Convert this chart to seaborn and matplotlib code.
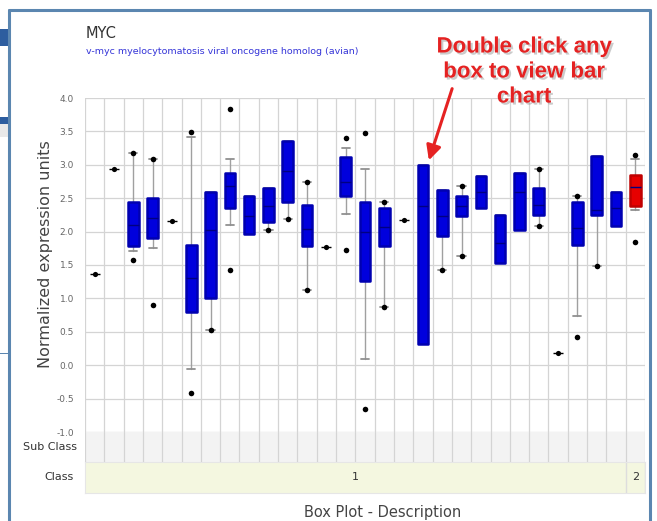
import numpy as np
import pandas as pd
import matplotlib
matplotlib.use('Agg')
import matplotlib.pyplot as plt
import matplotlib.patheffects as pe
from matplotlib.patches import Rectangle
import seaborn as sns

sns.set_style('white')
plt.rcParams['font.family'] = ['DejaVu Sans']

# ===== data =====
box_pos = [3, 4, 6, 7, 8, 9, 10, 11, 12, 14, 15, 16, 18, 19, 20, 21, 22, 23, 24, 26, 27, 28, 29]
box_q1 = [1.79, 1.91, 0.80, 1.00, 2.36, 1.96, 2.14, 2.45, 1.79, 2.53, 1.26, 1.79,
          0.31, 1.94, 2.24, 2.35, 1.53, 2.03, 2.25, 1.80, 2.25, 2.08, 2.39]
box_med = [2.10, 2.20, 1.30, 2.03, 2.69, 2.23, 2.38, 2.90, 2.04, 2.74, 2.00, 2.07,
           2.39, 2.23, 2.38, 2.60, 1.83, 2.60, 2.40, 2.06, 2.33, 2.35, 2.67]
box_q3 = [2.45, 2.51, 1.80, 2.60, 2.87, 2.54, 2.65, 3.35, 2.40, 3.12, 2.45, 2.36,
          2.99, 2.63, 2.53, 2.83, 2.25, 2.88, 2.65, 2.45, 3.13, 2.60, 2.85]
box_lo = [1.71, 1.75, -0.06, 0.52, 2.10, 1.96, 2.02, 2.19, 1.13, 2.26, 0.10, 0.87,
          0.31, 1.42, 1.64, 2.35, 1.53, 2.03, 2.08, 0.73, 1.49, 2.08, 2.32]
box_hi = [3.17, 3.09, 3.42, 2.60, 3.08, 2.54, 2.65, 3.35, 2.74, 3.25, 2.94, 2.44,
          2.99, 2.63, 2.68, 2.83, 2.25, 2.88, 2.94, 2.53, 3.13, 2.60, 3.09]
box_class = [1] * 22 + [2]

single_pos = [1, 2, 5, 13, 17, 25]
single_val = [1.37, 2.93, 2.16, 1.77, 2.17, 0.19]

dot_pos = [3, 3, 4, 4, 6, 6, 7, 8, 8, 10, 11, 12, 12, 14, 14, 15, 15, 16, 16,
           19, 20, 20, 24, 24, 26, 26, 27, 29, 29]
dot_val = [3.17, 1.57, 3.09, 0.90, 3.49, -0.41, 0.52, 3.84, 1.42, 2.02, 2.19,
           2.74, 1.13, 3.40, 1.73, 3.48, -0.66, 2.44, 0.87, 1.42, 2.68, 1.64,
           2.94, 2.08, 2.53, 0.42, 1.49, 3.14, 1.84]

n_cols = 29
class_names = ['1', '2']
class_span = [(0.5, 28.5), (28.5, 29.5)]

W, H = 657, 521


def fx(px):
    return px / W


def fy(py):
    return 1 - py / H


fig = plt.figure(figsize=(W / 100, H / 100), dpi=100)

# ===== web page background bits =====
for y0, y1, c in [(29, 46, '#2d5d9f'), (117, 124, '#2d5d9f'), (124, 137, '#e9e9e9')]:
    fig.add_artist(Rectangle((0, fy(y1)), fx(9), fy(y0) - fy(y1),
                             transform=fig.transFigure, color=c, lw=0))
fig.add_artist(Rectangle((0, fy(354)), fx(9), 1.5 / H, transform=fig.transFigure,
                         color='#5b86b0', lw=0))
# panel border
fig.add_artist(plt.Line2D([fx(9), fx(9)], [0, fy(10)], transform=fig.transFigure,
                          color='#5b86b0', lw=2.2))
fig.add_artist(plt.Line2D([fx(650), fx(650)], [0, fy(10)], transform=fig.transFigure,
                          color='#5b86b0', lw=2.2))
fig.add_artist(plt.Line2D([fx(9), fx(650)], [fy(10), fy(10)], transform=fig.transFigure,
                          color='#5b86b0', lw=2.2))

# ===== main box plot =====
left, right = 85, 645
ax = fig.add_axes([fx(left), fy(432), fx(right) - fx(left), fy(98) - fy(432)])
ax.set_xlim(0.5, n_cols + 0.5)
ax.set_ylim(-1.0, 4.0)

for x in np.arange(0.5, n_cols + 1, 1):
    ax.axvline(x, color='#d4d4d4', lw=0.9, zorder=0)
for y in np.arange(-1.0, 4.01, 0.5):
    ax.axhline(y, color='#d4d4d4', lw=0.9, zorder=0)

stats = []
for p, q1, md, q3, lo, hi in zip(box_pos, box_q1, box_med, box_q3, box_lo, box_hi):
    stats.append({'med': md, 'q1': q1, 'q3': q3, 'whislo': lo, 'whishi': hi, 'fliers': []})

bp = ax.bxp(stats, positions=box_pos, widths=0.55, capwidths=0.42,
            patch_artist=True, showfliers=False, manage_ticks=False,
            boxprops=dict(facecolor='#0000dd', edgecolor='#0000b0', linewidth=1.8,
                          joinstyle='round'),
            medianprops=dict(color='#000080', linewidth=1.0),
            whiskerprops=dict(color='#a0a0a0', linewidth=1.0, zorder=1.5),
            capprops=dict(color='#909090', linewidth=1.3, zorder=1.5))
for patch, cl in zip(bp['boxes'], box_class):
    if cl == 2:
        patch.set_facecolor('#e60000')
        patch.set_edgecolor('#c00000')

dots = pd.DataFrame({'pos': dot_pos, 'val': dot_val})
sns.scatterplot(data=dots, x='pos', y='val', color='black', s=16,
                edgecolor='black', linewidth=0, ax=ax, zorder=3)
singles = pd.DataFrame({'pos': single_pos, 'val': single_val})
sns.scatterplot(data=singles, x='pos', y='val', marker='_', color='black', s=60,
                linewidth=1.0, ax=ax, zorder=3)
sns.scatterplot(data=singles, x='pos', y='val', color='black', s=14,
                edgecolor='black', linewidth=0, ax=ax, zorder=3)

ax.set_xlabel('')
ax.set_ylabel('Normalized expression units', fontsize=11.5, color='#444444')
ax.yaxis.set_label_coords(-0.057, 0.5 + (265 - 254) / 334)
ax.set_xticks([])
ax.set_yticks(np.arange(-1.0, 4.01, 0.5))
ax.set_yticklabels([f'{v:.1f}' for v in np.arange(-1.0, 4.01, 0.5)],
                   fontsize=6.5, color='#666666')
ax.tick_params(axis='y', length=0, pad=8)
for s in ax.spines.values():
    s.set_visible(False)

# ===== sub class / class bands =====
ax_sub = fig.add_axes([fx(left), fy(462), fx(right) - fx(left), fy(432) - fy(462)])
ax_sub.set_xlim(0.5, n_cols + 0.5)
ax_sub.set_ylim(0, 1)
ax_sub.set_facecolor('#f3f3f3')
for x in np.arange(0.5, n_cols + 1, 1):
    ax_sub.axvline(x, color='#d4d4d4', lw=0.9)
ax_sub.set_xticks([])
ax_sub.set_yticks([])
for s in ax_sub.spines.values():
    s.set_visible(False)

ax_cls = fig.add_axes([fx(left), fy(493), fx(right) - fx(left), fy(462) - fy(493)])
ax_cls.set_xlim(0.5, n_cols + 0.5)
ax_cls.set_ylim(0, 1)
ax_cls.set_facecolor('#f4f7e0')
for name, (a, b) in zip(class_names, class_span):
    ax_cls.text((a + b) / 2, 0.5, name, ha='center', va='center', fontsize=8, color='#333333')
    ax_cls.axvline(b, color='#dddddd', lw=1.0)
ax_cls.set_xticks([])
ax_cls.set_yticks([])
for s in ax_cls.spines.values():
    s.set_color('#e6e6e6')

fig.text(fx(50), fy(447), 'Sub Class', ha='center', va='center', fontsize=8, color='#333333')
fig.text(fx(59), fy(477), 'Class', ha='center', va='center', fontsize=8, color='#333333')
fig.text(fx(383), fy(512), 'Box Plot - Description', ha='center', va='center',
         fontsize=10.5, color='#444444')

# ===== titles =====
fig.text(fx(86), fy(33), 'MYC', ha='left', va='center', fontsize=10.5, color='#333333')
fig.text(fx(86), fy(51), 'v-myc myelocytomatosis viral oncogene homolog (avian)',
         ha='left', va='center', fontsize=6.8, color='#3535d8')

# ===== red hint with arrow =====
fig.text(fx(524), fy(72), 'Double click any\nbox to view bar\nchart', ha='center', va='center',
         fontsize=16, fontweight='bold', color='#e52222', family='Liberation Sans',
         linespacing=1.25,
         path_effects=[pe.withSimplePatchShadow(offset=(1.5, -1.5), shadow_rgbFace='#999999',
                                                alpha=0.5)])
fig.add_artist(matplotlib.patches.FancyArrowPatch(
    (fx(453), fy(86)), (fx(428), fy(163)), transform=fig.transFigure,
    arrowstyle='-|>', mutation_scale=22, color='#e52222', lw=2.2))

fig.savefig('out.png', dpi=100)
plt.close()
